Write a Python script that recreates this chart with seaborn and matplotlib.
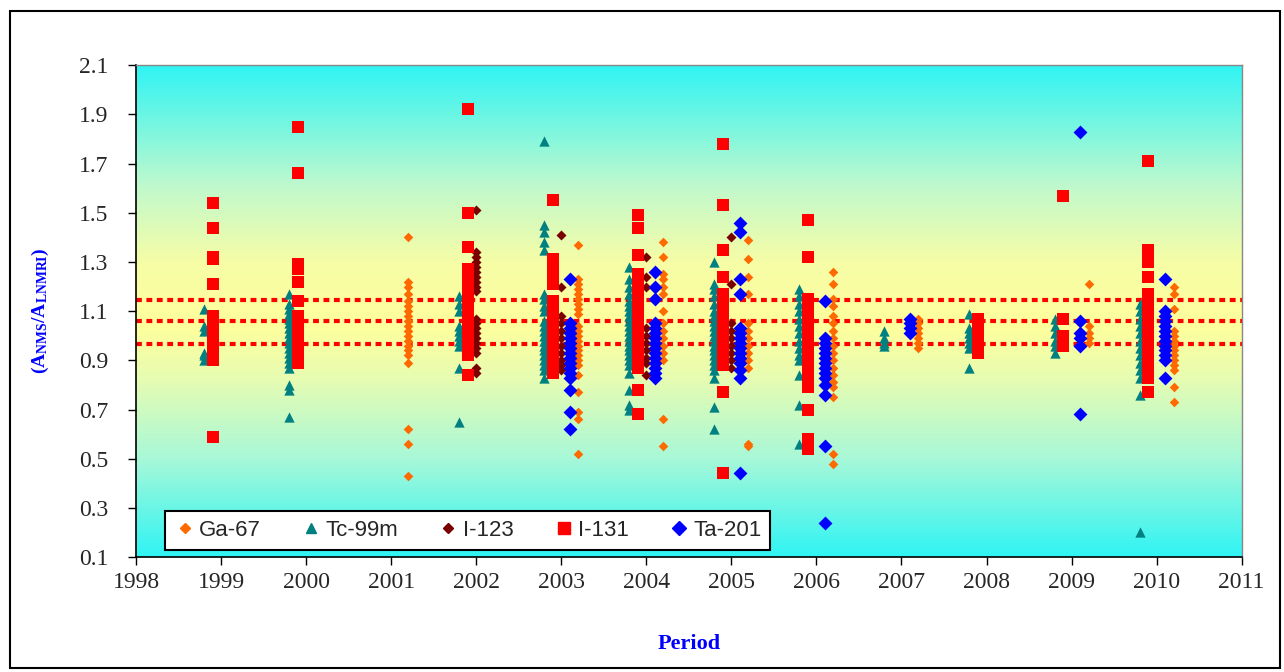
import numpy as np
import pandas as pd
import seaborn as sns
import matplotlib.pyplot as plt
from matplotlib.colors import LinearSegmentedColormap
from matplotlib.lines import Line2D
from matplotlib.patches import Rectangle

# ratio A_NMS / A_LNMRI per comparison year, one dict per isotope
ga67 = {
    2001: [1.40, 1.22, 1.20, 1.17, 1.14, 1.12, 1.10, 1.08, 1.06, 1.04, 1.02, 1.00, 0.98, 0.96, 0.94, 0.92, 0.89, 0.62, 0.56, 0.43],
    2003: [1.37, 1.23, 1.21, 1.19, 1.17, 1.15, 1.13, 1.11, 1.09, 1.04, 1.02, 1.00, 0.98, 0.96, 0.94, 0.92, 0.90, 0.88, 0.84, 0.77, 0.69, 0.66, 0.52],
    2004: [1.38, 1.32, 1.25, 1.23, 1.20, 1.17, 1.10, 1.05, 1.02, 0.99, 0.96, 0.93, 0.90, 0.66, 0.55],
    2005: [1.39, 1.31, 1.24, 1.17, 1.05, 1.02, 0.99, 0.96, 0.93, 0.90, 0.87, 0.56, 0.55],
    2006: [1.26, 1.21, 1.15, 1.12, 1.08, 1.05, 1.02, 0.99, 0.96, 0.93, 0.90, 0.87, 0.84, 0.81, 0.79, 0.75, 0.52, 0.48],
    2007: [1.07, 1.05, 1.03, 1.01, 0.99, 0.97, 0.95],
    2009: [1.21, 1.04, 1.01, 0.99, 0.97],
    2010: [1.20, 1.17, 1.11, 1.02, 1.00, 0.98, 0.96, 0.94, 0.92, 0.90, 0.88, 0.86, 0.79, 0.73],
}
tc99m = {
    1999: [1.11, 1.04, 1.02, 0.93, 0.92, 0.90],
    2000: [1.17, 1.13, 1.11, 1.09, 1.07, 1.05, 1.03, 1.01, 0.99, 0.97, 0.95, 0.93, 0.91, 0.89, 0.87, 0.80, 0.78, 0.67],
    2002: [1.16, 1.13, 1.10, 1.04, 1.02, 1.00, 0.98, 0.96, 0.87, 0.65],
    2003: [1.79, 1.45, 1.42, 1.38, 1.35, 1.17, 1.15, 1.12, 1.10, 1.06, 1.04, 1.02, 1.00, 0.98, 0.96, 0.94, 0.92, 0.90, 0.88, 0.86, 0.83],
    2004: [1.28, 1.23, 1.20, 1.17, 1.14, 1.12, 1.10, 1.08, 1.06, 1.04, 1.02, 1.00, 0.98, 0.96, 0.94, 0.92, 0.90, 0.88, 0.85, 0.78, 0.72, 0.70],
    2005: [1.30, 1.21, 1.19, 1.16, 1.13, 1.10, 1.08, 1.06, 1.04, 1.02, 1.00, 0.98, 0.96, 0.94, 0.92, 0.90, 0.88, 0.86, 0.83, 0.71, 0.62],
    2006: [1.19, 1.16, 1.13, 1.10, 1.07, 1.04, 1.01, 0.98, 0.95, 0.92, 0.90, 0.84, 0.72, 0.56],
    2007: [1.02, 0.99, 0.97, 0.96],
    2008: [1.09, 1.03, 1.01, 0.99, 0.97, 0.95, 0.87],
    2009: [1.07, 1.04, 1.01, 0.98, 0.96, 0.93],
    2010: [1.13, 1.10, 1.07, 1.04, 1.01, 0.98, 0.95, 0.92, 0.89, 0.86, 0.83, 0.76, 0.20],
}
i123 = {
    2002: [1.51, 1.34, 1.32, 1.30, 1.28, 1.26, 1.24, 1.22, 1.20, 1.18, 1.07, 1.05, 1.03, 1.01, 0.99, 0.97, 0.95, 0.93, 0.87, 0.85],
    2003: [1.41, 1.20, 1.08, 1.05, 1.02, 0.99, 0.96, 0.93, 0.90, 0.88, 0.86],
    2004: [1.32, 1.24, 1.20, 1.03, 1.00, 0.97, 0.94, 0.91, 0.89, 0.84],
    2005: [1.40, 1.21, 1.05, 1.02, 0.99, 0.96, 0.93, 0.90, 0.87],
}
i131 = {
    1999: [1.54, 1.44, 1.32, 1.31, 1.21, 1.08, 1.05, 1.02, 1.00, 0.98, 0.95, 0.93, 0.90, 0.59],
    2000: [1.85, 1.66, 1.29, 1.27, 1.22, 1.14, 1.08, 1.06, 1.04, 1.02, 1.00, 0.98, 0.96, 0.94, 0.92, 0.90, 0.89],
    2002: [1.92, 1.50, 1.36, 1.27, 1.25, 1.22, 1.20, 1.15, 1.12, 1.10, 1.08, 1.06, 1.04, 1.02, 1.00, 0.98, 0.96, 0.94, 0.92, 0.84],
    2003: [1.55, 1.31, 1.27, 1.24, 1.21, 1.14, 1.11, 1.09, 1.07, 1.05, 1.03, 1.01, 0.99, 0.97, 0.95, 0.93, 0.91, 0.89, 0.85],
    2004: [1.49, 1.44, 1.33, 1.25, 1.23, 1.21, 1.18, 1.15, 1.13, 1.11, 1.09, 1.07, 1.05, 1.03, 1.01, 0.99, 0.97, 0.95, 0.93, 0.91, 0.89, 0.87, 0.78, 0.68],
    2005: [1.78, 1.53, 1.35, 1.24, 1.17, 1.14, 1.11, 1.08, 1.06, 1.04, 1.02, 1.00, 0.98, 0.96, 0.94, 0.92, 0.90, 0.88, 0.77, 0.44],
    2006: [1.47, 1.32, 1.15, 1.12, 1.09, 1.06, 1.03, 1.00, 0.97, 0.94, 0.91, 0.88, 0.85, 0.82, 0.79, 0.70, 0.58, 0.54],
    2008: [1.07, 1.05, 1.03, 1.01, 0.99, 0.97, 0.95, 0.93],
    2009: [1.57, 1.07, 1.00, 0.98, 0.96],
    2010: [1.71, 1.35, 1.30, 1.24, 1.17, 1.14, 1.10, 1.07, 1.04, 1.01, 0.98, 0.95, 0.92, 0.89, 0.86, 0.83, 0.77],
}
ta201 = {
    2003: [1.23, 1.05, 1.03, 1.01, 0.99, 0.97, 0.95, 0.93, 0.91, 0.89, 0.87, 0.85, 0.83, 0.78, 0.69, 0.62],
    2004: [1.26, 1.20, 1.15, 1.05, 1.03, 1.01, 0.99, 0.97, 0.95, 0.93, 0.91, 0.89, 0.87, 0.85, 0.83],
    2005: [1.46, 1.42, 1.23, 1.17, 1.03, 1.01, 0.99, 0.97, 0.95, 0.93, 0.91, 0.89, 0.86, 0.83, 0.44],
    2006: [1.14, 0.99, 0.97, 0.95, 0.93, 0.91, 0.89, 0.87, 0.85, 0.83, 0.80, 0.76, 0.55, 0.24],
    2007: [1.07, 1.05, 1.03, 1.01],
    2009: [1.83, 1.06, 1.01, 0.99, 0.96, 0.68],
    2010: [1.23, 1.10, 1.08, 1.06, 1.04, 1.02, 1.00, 0.98, 0.96, 0.94, 0.92, 0.90, 0.83],
}
ref_lines = [1.145, 1.06, 0.965]

names = ['Ga-67', 'Tc-99m', 'I-123', 'I-131', 'Ta-201']
series = [ga67, tc99m, i123, i131, ta201]
# horizontal placement of each isotope inside a year's cluster
offsets = {'Ga-67': 0.2, 'Tc-99m': -0.2, 'I-123': 0.0, 'I-131': -0.1, 'Ta-201': 0.1}
colors = {'Ga-67': '#FF6A00', 'Tc-99m': '#008080', 'I-123': '#7A0000', 'I-131': '#FF0000', 'Ta-201': '#0000FF'}
markers = {'Ga-67': 'D', 'Tc-99m': '^', 'I-123': 'D', 'I-131': 's', 'Ta-201': 'D'}
sizes = {'Ga-67': 24, 'Tc-99m': 55, 'I-123': 26, 'I-131': 78, 'Ta-201': 50}

rows = []
for name, d in zip(names, series):
    for yr, vals in d.items():
        for v in vals:
            rows.append((name, yr + offsets[name], v))
df = pd.DataFrame(rows, columns=['isotope', 'period', 'ratio'])

sns.set_style('white')
plt.rcParams['mathtext.fontset'] = 'custom'
plt.rcParams['mathtext.rm'] = 'Liberation Serif'
plt.rcParams['mathtext.bf'] = 'Liberation Serif:bold'

fig = plt.figure(figsize=(12.84, 6.72), dpi=100)
ax = fig.add_axes([0.106, 0.171, 0.861, 0.732])

# background gradient
grad = LinearSegmentedColormap.from_list('bg', [
    (0.0, '#30F4F4'), (0.2, '#A8F8D8'), (0.36, '#E6FCB2'), (0.47, '#FFFF9C'),
    (0.6, '#F6FDA6'), (0.75, '#C2F9CC'), (1.0, '#30F4F4')])
ax.imshow(np.linspace(0, 1, 256).reshape(-1, 1), cmap=grad, aspect='auto',
          extent=[1998, 2011, 0.1, 2.1], origin='lower', zorder=0)

for y in ref_lines:
    ax.axhline(y, color='red', lw=3, linestyle=(0, (1.4, 1.1)), zorder=1)

for name in names:
    sub = df[df['isotope'] == name]
    sns.scatterplot(data=sub, x='period', y='ratio', ax=ax, color=colors[name],
                    marker=markers[name], s=sizes[name], linewidth=0, zorder=3,
                    legend=False)

ax.set_xlim(1998, 2011)
ax.set_ylim(0.1, 2.1)
ax.set_xticks(range(1998, 2012))
ax.set_yticks(np.arange(0.1, 2.11, 0.2))
ax.set_yticklabels([f'{t:.1f}' for t in np.arange(0.1, 2.11, 0.2)])
ax.tick_params(axis='both', direction='out', length=6, width=1, color='black',
               labelsize=17, bottom=True, left=True)
ax.tick_params(axis='y', pad=14)
ax.tick_params(axis='x', pad=5)
for lab in ax.get_xticklabels() + ax.get_yticklabels():
    lab.set_family('Liberation Serif')
for s in ['left', 'bottom']:
    ax.spines[s].set_color('black')
    ax.spines[s].set_linewidth(1.2)
for s in ['top', 'right']:
    ax.spines[s].set_color('#888888')
    ax.spines[s].set_linewidth(1)

ax.set_xlabel('Period', fontsize=16, fontweight='bold', color='blue',
              family='Liberation Serif', labelpad=29)
ax.set_ylabel(r'$\mathbf{(A_{NMS}/A_{LNMRI})}$', fontsize=14, color='blue', labelpad=20)

handles = [Line2D([], [], linestyle='none', marker=markers[n], color=colors[n],
                  markersize=np.sqrt(sizes[n]) * (1.0 if n in ('Tc-99m', 'I-131') else 1.05))
           for n in names]
leg = ax.legend(handles, names, ncol=5, loc='lower left', bbox_to_anchor=(0.026, 0.015),
                frameon=True, fancybox=False, edgecolor='black', framealpha=1,
                prop={'family': 'Liberation Sans', 'size': 16}, handletextpad=0.15,
                columnspacing=1.75, handlelength=1.0, borderpad=0.4, borderaxespad=0)
leg.get_frame().set_linewidth(1.5)

fig.patches.append(Rectangle((0.008, 0.006), 0.989, 0.978, transform=fig.transFigure,
                             fill=False, edgecolor='black', lw=1.5))

fig.savefig('out.png', dpi=100)
